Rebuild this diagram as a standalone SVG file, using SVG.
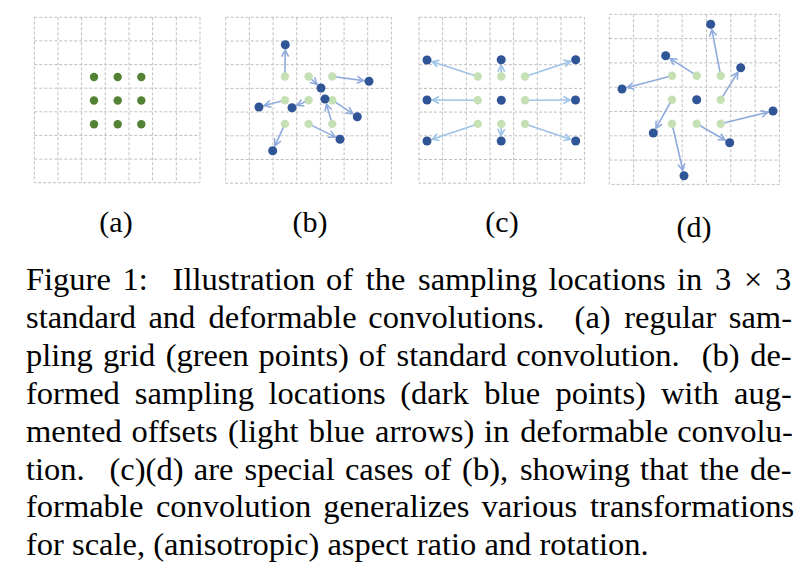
<svg xmlns="http://www.w3.org/2000/svg" width="811" height="581" viewBox="0 0 811 581">
<style>
.grid{fill:none;stroke:#bfbfbf;stroke-width:1;stroke-dasharray:3 2}
.g0{fill:#548235}
.g{fill:#c5e0b4}
.d{fill:#2f5597}
.ab{stroke:#8faadc;stroke-width:1.6;fill:none;marker-end:url(#mb)}
.ac{stroke:#9dc3e6;stroke-width:1.6;fill:none;marker-end:url(#mc)}
.lab{font-family:"Liberation Serif","Times New Roman",serif;font-size:30px;fill:#000;text-anchor:middle}
.cap{font-family:"Liberation Serif","Times New Roman",serif;font-size:32.5px;fill:#000}
</style>
<defs>
<marker id="mb" markerUnits="userSpaceOnUse" markerWidth="10" markerHeight="10" refX="7" refY="4" orient="auto" overflow="visible">
<path d="M0.5,0.5 L7,4 L0.5,7.5" fill="none" stroke="#8faadc" stroke-width="1.6"/>
</marker>
<marker id="mc" markerUnits="userSpaceOnUse" markerWidth="10" markerHeight="10" refX="7" refY="4" orient="auto" overflow="visible">
<path d="M0.5,0.5 L7,4 L0.5,7.5" fill="none" stroke="#9dc3e6" stroke-width="1.6"/>
</marker>
</defs>

<!-- Panel (a) -->
<g id="panel-a">
<path class="grid" d="M34.3,17.3H200V182.7H34.3Z M58,17.3V182.7 M81.6,17.3V182.7 M105.3,17.3V182.7 M129,17.3V182.7 M152.6,17.3V182.7 M176.3,17.3V182.7 M34.3,40.9H200 M34.3,64.6H200 M34.3,88.2H200 M34.3,111.8H200 M34.3,135.4H200 M34.3,159.1H200"/>
<g id="a-points">
<circle class="g0" cx="94" cy="77" r="4.2"/><circle class="g0" cx="117.7" cy="77" r="4.2"/><circle class="g0" cx="141.3" cy="77" r="4.2"/>
<circle class="g0" cx="94" cy="100.5" r="4.2"/><circle class="g0" cx="117.7" cy="100.5" r="4.2"/><circle class="g0" cx="141.3" cy="100.5" r="4.2"/>
<circle class="g0" cx="94" cy="124.3" r="4.2"/><circle class="g0" cx="117.7" cy="124.3" r="4.2"/><circle class="g0" cx="141.3" cy="124.3" r="4.2"/>
</g>
<text class="lab" x="116" y="232">(a)</text>
</g>

<!-- Panel (b) -->
<g id="panel-b">
<path class="grid" d="M225.7,17.3H391.4V183.2H225.7Z M249.4,17.3V183.2 M273.1,17.3V183.2 M296.7,17.3V183.2 M320.4,17.3V183.2 M344.1,17.3V183.2 M367.7,17.3V183.2 M225.7,41H391.4 M225.7,64.7H391.4 M225.7,88.4H391.4 M225.7,112.1H391.4 M225.7,135.8H391.4 M225.7,159.5H391.4"/>
<g id="b-connectors">
<line class="ab" x1="284.9" y1="76.5" x2="285.2" y2="50.2"/>
<line class="ab" x1="332.3" y1="76.5" x2="363.5" y2="80.6"/>
<line class="ab" x1="308.6" y1="76.5" x2="317" y2="84.3"/>
<line class="ab" x1="332.3" y1="123.9" x2="326.5" y2="104.3"/>
<line class="ab" x1="308.6" y1="100.2" x2="297" y2="105.4"/>
<line class="ab" x1="284.9" y1="100.2" x2="264.3" y2="105.6"/>
<line class="ab" x1="332.3" y1="100.2" x2="352.7" y2="113.7"/>
<line class="ab" x1="308.6" y1="123.9" x2="335.1" y2="136.9"/>
<line class="ab" x1="284.9" y1="123.9" x2="275" y2="145.7"/>
</g>
<g id="b-regular">
<circle class="g" cx="284.9" cy="76.5" r="4.2"/><circle class="g" cx="308.6" cy="76.5" r="4.2"/><circle class="g" cx="332.3" cy="76.5" r="4.2"/>
<circle class="g" cx="284.9" cy="100.2" r="4.2"/><circle class="g" cx="308.6" cy="100.2" r="4.2"/><circle class="g" cx="332.3" cy="100.2" r="4.2"/>
<circle class="g" cx="284.9" cy="123.9" r="4.2"/><circle class="g" cx="308.6" cy="123.9" r="4.2"/><circle class="g" cx="332.3" cy="123.9" r="4.2"/>
</g>
<g id="b-deformed">
<circle class="d" cx="285.3" cy="44.7" r="4.5"/>
<circle class="d" cx="369" cy="81.3" r="4.5"/>
<circle class="d" cx="321" cy="88" r="4.5"/>
<circle class="d" cx="325" cy="99" r="4.5"/>
<circle class="d" cx="292" cy="107.7" r="4.5"/>
<circle class="d" cx="259" cy="107" r="4.5"/>
<circle class="d" cx="357.3" cy="116.7" r="4.5"/>
<circle class="d" cx="340" cy="139.3" r="4.5"/>
<circle class="d" cx="272.7" cy="150.7" r="4.5"/>
</g>
<text class="lab" x="310" y="232">(b)</text>
</g>

<!-- Panel (c) -->
<g id="panel-c">
<path class="grid" d="M419,17.3H584.6V183.2H419Z M442.6,17.3V183.2 M466.3,17.3V183.2 M490,17.3V183.2 M513.6,17.3V183.2 M537.3,17.3V183.2 M561,17.3V183.2 M419,41H584.6 M419,64.7H584.6 M419,88.4H584.6 M419,112.1H584.6 M419,135.8H584.6 M419,159.5H584.6"/>
<g id="c-connectors">
<line class="ac" x1="477.8" y1="76.5" x2="432.2" y2="61.7"/>
<line class="ac" x1="501.3" y1="76.5" x2="501.2" y2="65.2"/>
<line class="ac" x1="525" y1="76.5" x2="570.5" y2="61.4"/>
<line class="ac" x1="477.8" y1="100.2" x2="432.5" y2="100"/>
<line class="ac" x1="525" y1="100.2" x2="570" y2="100"/>
<line class="ac" x1="477.8" y1="123.9" x2="432.2" y2="139.2"/>
<line class="ac" x1="501.3" y1="123.9" x2="501.2" y2="135.5"/>
<line class="ac" x1="525" y1="123.9" x2="570.5" y2="139.2"/>
</g>
<g id="c-regular">
<circle class="g" cx="477.8" cy="76.5" r="4.2"/><circle class="g" cx="501.3" cy="76.5" r="4.2"/><circle class="g" cx="525" cy="76.5" r="4.2"/>
<circle class="g" cx="477.8" cy="100.2" r="4.2"/><circle class="g" cx="525" cy="100.2" r="4.2"/>
<circle class="g" cx="477.8" cy="123.9" r="4.2"/><circle class="g" cx="501.3" cy="123.9" r="4.2"/><circle class="g" cx="525" cy="123.9" r="4.2"/>
</g>
<g id="c-deformed">
<circle class="d" cx="427" cy="60" r="4.5"/>
<circle class="d" cx="501.2" cy="59.7" r="4.5"/>
<circle class="d" cx="575.7" cy="59.7" r="4.5"/>
<circle class="d" cx="427" cy="100" r="4.5"/>
<circle class="d" cx="501.3" cy="100.2" r="4.5"/>
<circle class="d" cx="575.5" cy="100" r="4.5"/>
<circle class="d" cx="427" cy="141" r="4.5"/>
<circle class="d" cx="501.2" cy="141" r="4.5"/>
<circle class="d" cx="575.7" cy="141" r="4.5"/>
</g>
<text class="lab" x="502" y="232">(c)</text>
</g>

<!-- Panel (d) -->
<g id="panel-d">
<path class="grid" d="M609.3,14.3H779.4V184.4H609.3Z M633.6,14.3V184.4 M657.9,14.3V184.4 M682.2,14.3V184.4 M706.5,14.3V184.4 M730.8,14.3V184.4 M755.1,14.3V184.4 M609.3,38.6H779.4 M609.3,62.9H779.4 M609.3,87.2H779.4 M609.3,111.5H779.4 M609.3,135.8H779.4 M609.3,160.1H779.4"/>
<g id="d-connectors">
<line class="ab" x1="720.7" y1="75.7" x2="711.8" y2="29.7"/>
<line class="ab" x1="696.7" y1="75.7" x2="670.3" y2="58.7"/>
<line class="ab" x1="720.7" y1="99.7" x2="737.8" y2="72.4"/>
<line class="ab" x1="672" y1="75.7" x2="627.3" y2="87.6"/>
<line class="ab" x1="720.7" y1="123.7" x2="767.7" y2="112.3"/>
<line class="ab" x1="672" y1="99.7" x2="656" y2="128.2"/>
<line class="ab" x1="696.7" y1="123.7" x2="724.9" y2="140"/>
<line class="ab" x1="672" y1="123.7" x2="682.8" y2="170.3"/>
</g>
<g id="d-regular">
<circle class="g" cx="672" cy="75.7" r="4.2"/><circle class="g" cx="696.7" cy="75.7" r="4.2"/><circle class="g" cx="720.7" cy="75.7" r="4.2"/>
<circle class="g" cx="672" cy="99.7" r="4.2"/><circle class="g" cx="720.7" cy="99.7" r="4.2"/>
<circle class="g" cx="672" cy="123.7" r="4.2"/><circle class="g" cx="696.7" cy="123.7" r="4.2"/><circle class="g" cx="720.7" cy="123.7" r="4.2"/>
</g>
<g id="d-deformed">
<circle class="d" cx="710.7" cy="24.3" r="4.5"/>
<circle class="d" cx="665.7" cy="55.7" r="4.5"/>
<circle class="d" cx="740.7" cy="67.7" r="4.5"/>
<circle class="d" cx="622" cy="89" r="4.5"/>
<circle class="d" cx="696.7" cy="99.7" r="4.5"/>
<circle class="d" cx="773" cy="111" r="4.5"/>
<circle class="d" cx="653.3" cy="133" r="4.5"/>
<circle class="d" cx="729.7" cy="142.7" r="4.5"/>
<circle class="d" cx="684" cy="175.7" r="4.5"/>
</g>
<text class="lab" x="694" y="237">(d)</text>
</g>

<!-- Caption -->
<g id="caption" class="cap">
<text y="290"><tspan x="26">Figure</tspan><tspan x="122.6">1:</tspan><tspan x="172.6">Illustration</tspan><tspan x="326.1">of</tspan><tspan x="365.8">the</tspan><tspan x="418">sampling</tspan><tspan x="548.4">locations</tspan><tspan x="677">in</tspan><tspan x="714.9">3</tspan><tspan x="744">×</tspan><tspan x="775">3</tspan></text>
<text y="327.9"><tspan x="26">standard</tspan><tspan x="148.4">and</tspan><tspan x="208.6">deformable</tspan><tspan x="368.3">convolutions.</tspan><tspan x="574.6">(a)</tspan><tspan x="624.2">regular</tspan><tspan x="728.8">sam-</tspan></text>
<text y="365.8"><tspan x="26">pling</tspan><tspan x="103">grid</tspan><tspan x="165.7">(green</tspan><tspan x="258.6">points)</tspan><tspan x="358.7">of</tspan><tspan x="396.6">standard</tspan><tspan x="516.2">convolution.</tspan><tspan x="701.7">(b)</tspan><tspan x="750.2">de-</tspan></text>
<text y="403.7"><tspan x="26">formed</tspan><tspan x="134.8">sampling</tspan><tspan x="268.4">locations</tspan><tspan x="400.3">(dark</tspan><tspan x="484.2">blue</tspan><tspan x="555.6">points)</tspan><tspan x="660.9">with</tspan><tspan x="734.1">aug-</tspan></text>
<text y="441.6"><tspan x="26">mented</tspan><tspan x="131.5">offsets</tspan><tspan x="228.1">(light</tspan><tspan x="308.7">blue</tspan><tspan x="375">arrows)</tspan><tspan x="484">in</tspan><tspan x="520.2">deformable</tspan><tspan x="677.2">convolu-</tspan></text>
<text y="479.5"><tspan x="26">tion.</tspan><tspan x="109.5">(c)(d)</tspan><tspan x="193.8">are</tspan><tspan x="244.5">special</tspan><tspan x="344.9">cases</tspan><tspan x="423.9">of</tspan><tspan x="462.1">(b),</tspan><tspan x="519.9">showing</tspan><tspan x="639.9">that</tspan><tspan x="699.4">the</tspan><tspan x="750.1">de-</tspan></text>
<text y="517.4"><tspan x="26">formable</tspan><tspan x="155.9">convolution</tspan><tspan x="323.2">generalizes</tspan><tspan x="481.5">various</tspan><tspan x="590.1">transformations</tspan></text>
<text y="555.3" x="26">for scale, (anisotropic) aspect ratio and rotation.</text>
</g>
</svg>
